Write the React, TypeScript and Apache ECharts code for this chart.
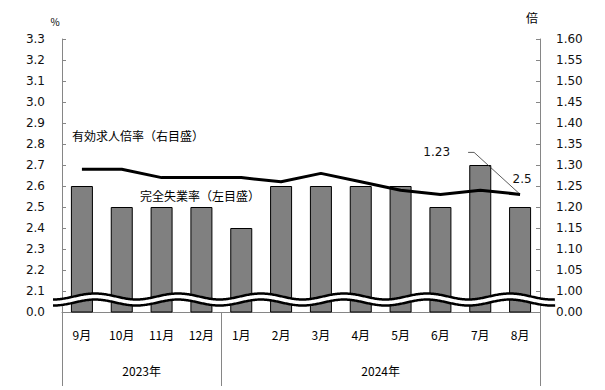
import React, { useEffect, useRef } from "react";
import * as echarts from "echarts";

const months = ["9月", "10月", "11月", "12月", "1月", "2月", "3月", "4月", "5月", "6月", "7月", "8月"];
const unemploymentRate = [2.6, 2.5, 2.5, 2.5, 2.4, 2.6, 2.6, 2.6, 2.6, 2.5, 2.7, 2.5];
const jobRatio = [1.29, 1.29, 1.27, 1.27, 1.27, 1.26, 1.28, 1.26, 1.24, 1.23, 1.24, 1.23];
const yearLabels = ["2023年", "2024年"];
const yearSpans = [4, 8];
const leftBreakValue = "0.0";
const rightBreakValue = "0.00";

const NUM_FONT = "DejaVu Sans, Verdana, sans-serif";
const JP_FONT = "'Noto Sans CJK JP', sans-serif";
const AXIS_GRAY = "#868686";

export default function App() {
  const ref = useRef<HTMLDivElement>(null);
  useEffect(() => {
    if (!ref.current) return;
    const chart = echarts.init(ref.current, null, { renderer: "svg" });
    chart.setOption({
      animation: false,
      grid: { left: 62, right: 65, top: 39, bottom: 78 },
      xAxis: {
        type: "category",
        data: months,
        axisLine: { lineStyle: { color: AXIS_GRAY } },
        axisTick: { show: false },
        axisLabel: { color: "#000", fontFamily: JP_FONT, fontSize: 12, margin: 16 },
      },
      yAxis: [
        {
          type: "value",
          min: 2.0,
          max: 3.3,
          interval: 0.1,
          splitLine: { show: false },
          axisLine: { show: true, lineStyle: { color: AXIS_GRAY } },
          axisTick: { show: true, inside: true, length: 4, lineStyle: { color: AXIS_GRAY } },
          axisLabel: {
            color: "#111",
            fontFamily: NUM_FONT,
            fontSize: 12,
            margin: 17,
            formatter: (v: number) => (v < 2.05 ? leftBreakValue : v.toFixed(1)),
          },
        },
        {
          type: "value",
          min: 0.95,
          max: 1.6,
          interval: 0.05,
          splitLine: { show: false },
          axisLine: { show: true, lineStyle: { color: AXIS_GRAY } },
          axisTick: { show: true, inside: true, length: 4, lineStyle: { color: AXIS_GRAY } },
          axisLabel: {
            color: "#111",
            fontFamily: NUM_FONT,
            fontSize: 12,
            margin: 16,
            formatter: (v: number) => (v < 0.975 ? rightBreakValue : v.toFixed(2)),
          },
        },
      ],
      series: [
        {
          name: "完全失業率",
          type: "bar",
          yAxisIndex: 0,
          data: unemploymentRate,
          barWidth: 22,
          itemStyle: { color: "#808080", borderColor: "#000", borderWidth: 1 },
          z: 2,
        },
        {
          name: "有効求人倍率",
          type: "line",
          yAxisIndex: 1,
          data: jobRatio,
          symbol: "none",
          lineStyle: { color: "#000", width: 3 },
          z: 3,
        },
      ],
    });

    const pt = (i: number, v: number, axis: number) =>
      chart.convertToPixel({ xAxisIndex: 0, yAxisIndex: axis }, [i, v]) as number[];
    const c0 = pt(0, 2.0, 0);
    const c1 = pt(1, 2.0, 0);
    const bw = c1[0] - c0[0];
    const left = c0[0] - bw / 2;
    const baseY = c0[1];

    const elements: any[] = [];
    // year separators and labels
    let acc = 0;
    const bounds = [0];
    yearSpans.forEach((s) => {
      acc += s;
      bounds.push(acc);
    });
    bounds.forEach((b) => {
      const x = Math.round(left + b * bw) + 0.5;
      elements.push({
        type: "line",
        shape: { x1: x, y1: baseY, x2: x, y2: baseY + 74 },
        style: { stroke: AXIS_GRAY, lineWidth: 1 },
        z: 10,
      });
    });
    yearLabels.forEach((lab, k) => {
      const cx = left + ((bounds[k] + bounds[k + 1]) / 2) * bw;
      elements.push({
        type: "text",
        x: cx,
        y: baseY + 58,
        style: { text: lab, fill: "#000", font: `12px ${JP_FONT}`, align: "center", verticalAlign: "middle" },
        z: 10,
      });
    });

    // axis break wave
    const wavePts: number[][] = [];
    for (let x = 53; x <= 555; x += 1) {
      wavePts.push([x, baseY - 12.5 - 3 * Math.cos((2 * Math.PI * (x - 95)) / 83)]);
    }
    elements.push({
      type: "polyline",
      shape: { points: wavePts },
      style: { stroke: "#000", lineWidth: 8.5, fill: null },
      z: 20,
    });
    elements.push({
      type: "polyline",
      shape: { points: wavePts },
      style: { stroke: "#fff", lineWidth: 3.5, fill: null },
      z: 21,
    });

    // units
    elements.push({
      type: "text",
      x: 55,
      y: 21,
      style: { text: "%", fill: "#000", font: `10px ${JP_FONT}`, align: "center", verticalAlign: "middle" },
    });
    elements.push({
      type: "text",
      x: 532,
      y: 17,
      style: { text: "倍", fill: "#000", font: `12px ${JP_FONT}`, align: "center", verticalAlign: "middle" },
    });

    // series annotations
    elements.push({
      type: "text",
      x: 72,
      y: 135,
      style: { text: "有効求人倍率（右目盛）", fill: "#000", font: `12px ${JP_FONT}`, align: "left", verticalAlign: "middle" },
      z: 15,
    });
    elements.push({
      type: "text",
      x: 140,
      y: 195,
      style: { text: "完全失業率（左目盛）", fill: "#000", font: `12px ${JP_FONT}`, align: "left", verticalAlign: "middle" },
      z: 15,
    });

    // value labels for last month
    const last = months.length - 1;
    const lp = pt(last, jobRatio[last], 1);
    elements.push({
      type: "text",
      x: lp[0] - 70,
      y: lp[1] - 42,
      style: { text: jobRatio[last].toFixed(2), fill: "#111", font: `12px ${NUM_FONT}`, align: "right", verticalAlign: "middle" },
      z: 15,
    });
    elements.push({
      type: "polyline",
      shape: {
        points: [
          [lp[0] - 52, lp[1] - 42],
          [lp[0] - 46, lp[1] - 42],
          [lp[0] - 1, lp[1] - 1],
        ],
      },
      style: { stroke: "#333", lineWidth: 0.8, fill: null },
      z: 15,
    });
    const bp = pt(last, unemploymentRate[last], 0);
    elements.push({
      type: "text",
      x: bp[0] + 2,
      y: bp[1] - 28,
      style: { text: unemploymentRate[last].toFixed(1), fill: "#111", font: `12px ${NUM_FONT}`, align: "center", verticalAlign: "middle" },
      z: 15,
    });

    chart.setOption({ graphic: { elements } });
    return () => chart.dispose();
  }, []);
  return <div ref={ref} style={{ position: "absolute", left: 0, top: 0, width: 605, height: 390 }} />;
}
